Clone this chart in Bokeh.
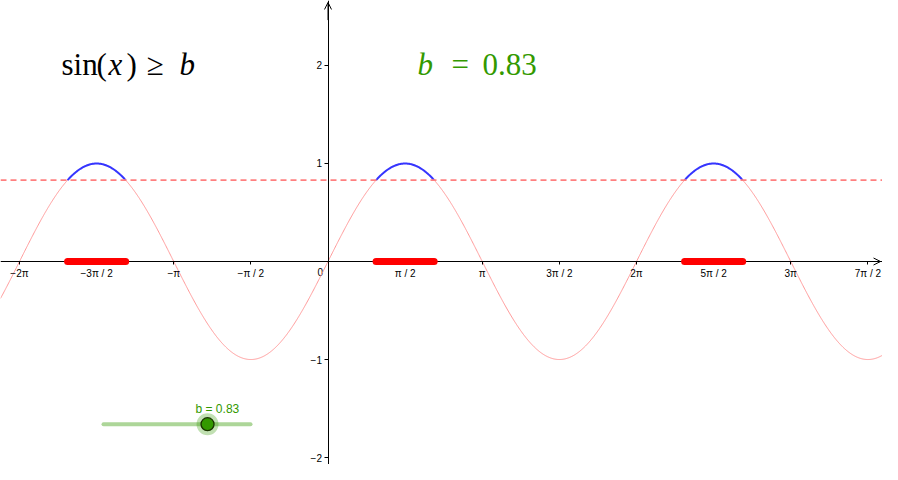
import numpy as np
from bokeh.plotting import figure
from bokeh.models import (Range1d, LinearAxis, FixedTicker, Arrow, OpenHead,
                          CustomJSTickFormatter, Span)
from bokeh.core.properties import value
from bokeh.embed import file_html
from bokeh.resources import INLINE

# ---- data ----
b = 0.83
slider_min = -2.0
slider_max = 2.0
x_ticks = [-2 * np.pi, -1.5 * np.pi, -np.pi, -0.5 * np.pi, 0.5 * np.pi, np.pi,
           1.5 * np.pi, 2 * np.pi, 2.5 * np.pi, 3 * np.pi, 3.5 * np.pi]
x_tick_labels = ["−2π", "−3π / 2", "−π", "−π / 2", "π / 2", "π",
                 "3π / 2", "2π", "5π / 2", "3π", "7π / 2"]
y_ticks = [-2, -1, 1, 2]
y_tick_labels = ["−2", "−1", "1", "2"]
periods = [-1, 0, 1]

# ---- figure ----
X0, X1 = -6.670, 11.293
Y0, Y1 = -2.071, 2.663
p = figure(width=882, height=464, x_range=Range1d(X0, X1), y_range=Range1d(Y0, Y1),
           output_backend="svg", toolbar_location=None,
           x_axis_location=None, y_axis_location=None, min_border=0)
p.grid.visible = False
p.outline_line_color = None
p.background_fill_color = "white"

FONT = "Liberation Sans"
SERIF = "Liberation Serif"

xaxis = LinearAxis(fixed_location=0, ticker=FixedTicker(ticks=x_ticks),
                   formatter=CustomJSTickFormatter(args=dict(labels=x_tick_labels),
                                                   code="return labels[index]"))
xaxis.major_tick_in = 0
xaxis.major_tick_out = 3
xaxis.minor_tick_line_color = None
xaxis.major_label_standoff = 3
xaxis.major_label_text_font = FONT
xaxis.major_label_text_font_size = "10px"
xaxis.major_label_text_color = "black"
xaxis.axis_line_color = "black"
p.add_layout(xaxis, "below")

yaxis = LinearAxis(fixed_location=0, ticker=FixedTicker(ticks=y_ticks),
                   formatter=CustomJSTickFormatter(args=dict(labels=y_tick_labels),
                                                   code="return labels[index]"))
yaxis.major_tick_in = 0
yaxis.major_tick_out = 4
yaxis.minor_tick_line_color = None
yaxis.major_label_standoff = 2
yaxis.major_label_text_font = FONT
yaxis.major_label_text_font_size = "10px"
yaxis.major_label_text_color = "black"
yaxis.axis_line_color = "black"
p.add_layout(yaxis, "left")

# axis arrow heads
p.add_layout(Arrow(end=OpenHead(size=7, line_width=1, line_color="black"),
                   x_start=X1 - 0.3, y_start=0, x_end=X1 - 0.04, y_end=0,
                   line_color="black", line_width=1))
p.add_layout(Arrow(end=OpenHead(size=7, line_width=1, line_color="black"),
                   x_start=0, y_start=Y1 - 0.2, x_end=0, y_end=Y1 - 0.02,
                   line_color="black", line_width=1))

# origin label
p.text(x=[0], y=[0], text=["0"], x_offset=-5, y_offset=6, text_align="right",
       text_baseline="top", text_font=value(FONT), text_font_size="10px", text_color="black")

# sine curve
xs = np.linspace(X0, X1, 1500)
p.line(xs, np.sin(xs), line_color="#ff9a9a", line_width=1)

# parts with sin(x) >= b
a = np.arcsin(b)
starts = [a + 2 * k * np.pi for k in periods]
ends = [np.pi - a + 2 * k * np.pi for k in periods]
bx, by = [], []
for s, e in zip(starts, ends):
    t = np.linspace(s, e, 80)
    bx.append(t)
    by.append(np.sin(t))
p.multi_line(bx, by, line_color="#3535ff", line_width=2)

# dashed line y = b
p.add_layout(Span(location=b, dimension="width", line_color="#ff8080",
                  line_width=1.6, line_dash="6 4"))

# solution intervals on x-axis
seg = p.segment(x0=starts, y0=[0] * len(starts), x1=ends, y1=[0] * len(ends),
                line_color="#ff0000", line_width=7, line_cap="round")
seg.level = "overlay"

# titles
ty = 2.01
tx = (61 - 327.5) / 49.1
pieces1 = ["sin", "(", "x", ")", "≥", "b"]
styles1 = ["normal", "normal", "italic", "normal", "normal", "italic"]
offs1 = [0, 35, 47, 65, 85, 118]
p.text(x=[tx] * len(pieces1), y=[ty] * len(pieces1), text=pieces1, x_offset=offs1,
       text_font_style=styles1, text_font=value(SERIF),
       text_font_size="31px", text_color="black", text_baseline="alphabetic")

bx0 = (417 - 327.5) / 49.1
pieces2 = ["b", "=", "0.83"]
styles2 = ["italic", "normal", "normal"]
offs2 = [0, 34, 65]
p.text(x=[bx0] * 3, y=[ty] * 3, text=pieces2, x_offset=offs2,
       text_font_style=styles2, text_font=value(SERIF),
       text_font_size="31px", text_color="#339900", text_baseline="alphabetic")

# slider
sx0, slen, sy = -4.572, 2.994, -1.66
p.line([sx0, sx0 + slen], [sy, sy], line_color="#add699", line_width=4, line_cap="round")
px = sx0 + (b - slider_min) / (slider_max - slider_min) * slen
p.scatter([px], [sy], size=22, fill_color="#339900", fill_alpha=0.3, line_color=None)
p.scatter([px], [sy], size=13, fill_color="#339900", line_color="#1a3300", line_width=1.3)
p.text(x=[px], y=[sy], text=[f"b = {b:.2f}"], x_offset=-12, y_offset=-15,
       text_font=value(FONT), text_font_size="12px", text_color="#339900",
       text_baseline="alphabetic")

open("out.html", "w").write(file_html(p, INLINE))
